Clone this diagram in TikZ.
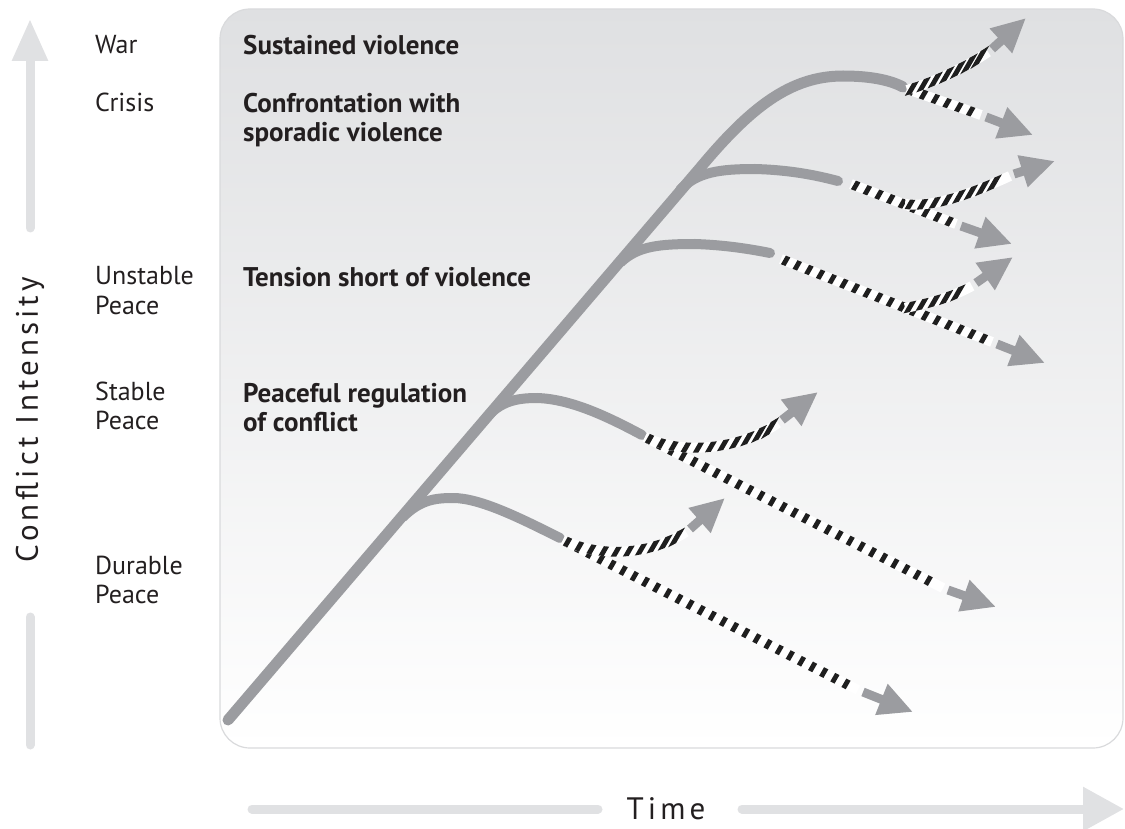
\documentclass[tikz,border=0pt]{standalone}
\usepackage{fontspec}
\setmainfont{PT Sans}
\newfontfamily\axfont[LetterSpace=13]{PT Sans}
\usetikzlibrary{arrows.meta,decorations.markings}
\definecolor{linegray}{HTML}{9B9CA0}
\definecolor{axisgray}{HTML}{E0E1E3}
\definecolor{paneltop}{HTML}{DFE0E2}
\definecolor{panelmid}{HTML}{ECEDEE}
\definecolor{panelrim}{HTML}{D9DADC}
\definecolor{txt}{HTML}{231F20}
\newcommand{\stripemark}{%
  \pgfgettransformentries{\stA}{\stB}{\stC}{\stD}{\stX}{\stY}%
  \pgfmathsetmacro{\stTh}{atan2(\stB,\stA)}%
  \pgfmathsetmacro{\stPh}{max(18,min(162,60-(\stTh)))}%
  \pgfmathsetmacro{\stU}{4.9*cot(\stPh)}%
  \pgfmathsetmacro{\stT}{2.4/sin(\stPh)}%
  \pgfmathsetmacro{\stPa}{-\stU-\stT}%
  \pgfmathsetmacro{\stPb}{-\stU+\stT}%
  \pgfmathsetmacro{\stPc}{\stU+\stT}%
  \pgfmathsetmacro{\stPd}{\stU-\stT}%
  \fill[black!88] (\stPa pt,-4.9pt) -- (\stPb pt,-4.9pt) -- (\stPc pt,4.9pt) -- (\stPd pt,4.9pt) -- cycle;%
}
\tikzset{
  trunkline/.style={draw=linegray, line width=11pt, line cap=round},
  branchline/.style={draw=linegray, line width=10pt, line cap=round},
  striped/.style={draw=white, line width=10pt, postaction={decorate, decoration={markings, mark=between positions 5pt and -5pt step 12.5pt with {\stripemark}}}},
  headarrow/.style={draw=linegray, line width=9pt, -{Triangle[length=34pt,width=31pt]}},
  levellabel/.style={anchor=base west, font=\fontsize{26}{30}\selectfont, text=txt, inner sep=0pt},
  zonelabel/.style={anchor=base west, font=\bfseries\fontsize{27}{30}\selectfont, text=txt, inner sep=0pt},
  axislabel/.style={font=\axfont\fontsize{31}{36}\selectfont, text=txt, inner sep=0pt},
  axisbar/.style={draw=axisgray, line width=9pt, line cap=round},
}
\begin{document}
\begin{tikzpicture}[x=1pt,y=-1pt]
\useasboundingbox (0,0) rectangle (1125,829);
% panel
\shade[top color=paneltop, middle color=panelmid, bottom color=white, rounded corners=30pt] (220,9) rectangle (1123,748);
\draw[panelrim, line width=1.2pt, rounded corners=30pt] (220,9) rectangle (1123,748);
% axes
\coordinate (ya) at (30,228);
\coordinate (yb) at (30,19);
\coordinate (yc) at (30,617);
\coordinate (yd) at (30,745);
\draw[axisbar, -{Triangle[length=42pt,width=34pt]}] (ya) -- (yb);
\draw[axisbar] (yc) -- (yd);
\coordinate (xa) at (252,809);
\coordinate (xb) at (598,809);
\coordinate (xc) at (742,809);
\coordinate (xd) at (1124,809);
\draw[axisbar] (xa) -- (xb);
\draw[axisbar, -{Triangle[length=41pt,width=42pt]}] (xc) -- (xd);
\node[axislabel, rotate=90] (ci) at (30,420) {Conflict Intensity};
\node[axislabel] (time) at (666,809) {Time};
% level labels
\node[levellabel] (war) at (95,54) {War};
\node[levellabel] (crisis) at (95,112) {Crisis};
\node[levellabel] (unst1) at (95,285) {Unstable};
\node[levellabel] (unst2) at (95,314) {Peace};
\node[levellabel] (stab1) at (95,400) {Stable};
\node[levellabel] (stab2) at (95,429) {Peace};
\node[levellabel] (dur1) at (95,574) {Durable};
\node[levellabel] (dur2) at (95,603) {Peace};
% zone labels
\node[zonelabel] (sus) at (243,55) {Sustained violence};
\node[zonelabel] (conf1) at (243,113) {Confrontation with};
\node[zonelabel] (conf2) at (243,142) {sporadic violence};
\node[zonelabel] (tens) at (243,287) {Tension short of violence};
\node[zonelabel] (peac1) at (243,402) {Peaceful regulation};
\node[zonelabel] (peac2) at (243,431) {of conflict};
% trunk and branches
\coordinate (t0) at (228,720);
\coordinate (t1) at (700,168);
\coordinate (tE) at (903,87);
\draw[trunkline] (t0) -- (t1) .. controls (750,108) and (790,76) .. (843,76) .. controls (870,76) and (890,80) .. (tE);
\coordinate (b1a) at (403,517);
\coordinate (b1E) at (560,538);
\draw[branchline] (b1a) .. controls (420,500) and (435,498) .. (453,498) .. controls (480,498) and (520,518) .. (b1E);
\coordinate (b2a) at (486,418);
\coordinate (b2E) at (642,435);
\draw[branchline] (b2a) .. controls (500,402) and (515,398) .. (537,398) .. controls (572,399) and (610,418) .. (b2E);
\coordinate (b3a) at (621,262);
\coordinate (b3E) at (770,253);
\draw[branchline] (b3a) .. controls (638,246) and (660,244) .. (695,244) .. controls (725,245) and (750,249) .. (b3E);
\coordinate (b4a) at (680,190);
\coordinate (b4E) at (838,181);
\draw[branchline] (b4a) .. controls (697,172) and (720,169) .. (755,169) .. controls (790,170) and (815,175) .. (b4E);
% striped futures: lower lines
\coordinate (tLs) at (907,89);  \coordinate (tLe) at (981,115);
\coordinate (tLh) at (986,117); \coordinate (tLt) at (1033,135);
\coordinate (b4Ls) at (851,184); \coordinate (b4Le) at (956,224);
\coordinate (b4Lh) at (961,226); \coordinate (b4Lt) at (1012,244);
\coordinate (b3Ls) at (781,259); \coordinate (b3Le) at (992,342);
\coordinate (b3Lh) at (997,344); \coordinate (b3Lt) at (1045,363);
\coordinate (b2Ls) at (645,437); \coordinate (b2Le) at (943,588);
\coordinate (b2Lh) at (948,590); \coordinate (b2Lt) at (996,607);
\coordinate (b1Ls) at (563,540); \coordinate (b1Le) at (858,690);
\coordinate (b1Lh) at (863,692); \coordinate (b1Lt) at (913,712);
\draw[striped] (tLs) -- (tLe);   \draw[headarrow] (tLh) -- (tLt);
\draw[striped] (b4Ls) -- (b4Le); \draw[headarrow] (b4Lh) -- (b4Lt);
\draw[striped] (b3Ls) -- (b3Le); \draw[headarrow] (b3Lh) -- (b3Lt);
\draw[striped] (b2Ls) -- (b2Le); \draw[headarrow] (b2Lh) -- (b2Lt);
\draw[striped] (b1Ls) -- (b1Le); \draw[headarrow] (b1Lh) -- (b1Lt);
% upper lines
\coordinate (tUs) at (907,90);   \coordinate (tUe) at (988,52);
\coordinate (tUh) at (992,49);   \coordinate (tUt) at (1026,18);
\coordinate (b4Us) at (905,204); \coordinate (b4Ue) at (1010,176);
\coordinate (b4Uh) at (1014,174);\coordinate (b4Ut) at (1055,161);
\coordinate (b3Us) at (905,308); \coordinate (b3Ue) at (972,286);
\coordinate (b3Uh) at (976,283); \coordinate (b3Ut) at (1013,257);
\coordinate (b2Us) at (645,437); \coordinate (b2Ue) at (778,423);
\coordinate (b2Uh) at (782,420); \coordinate (b2Ut) at (818,392);
\coordinate (b1Us) at (563,540); \coordinate (b1Ue) at (686,532);
\coordinate (b1Uh) at (690,529); \coordinate (b1Ut) at (725,498);
\draw[striped] (tUs) .. controls (928,84) and (962,70) .. (tUe);     \draw[headarrow] (tUh) -- (tUt);
\draw[striped] (b4Us) .. controls (935,208) and (975,192) .. (b4Ue); \draw[headarrow] (b4Uh) -- (b4Ut);
\draw[striped] (b3Us) .. controls (930,303) and (950,298) .. (b3Ue); \draw[headarrow] (b3Uh) -- (b3Ut);
\draw[striped] (b2Us) .. controls (680,455) and (740,450) .. (b2Ue); \draw[headarrow] (b2Uh) -- (b2Ut);
\draw[striped] (b1Us) .. controls (600,558) and (650,555) .. (b1Ue); \draw[headarrow] (b1Uh) -- (b1Ut);
\end{tikzpicture}
\end{document}
